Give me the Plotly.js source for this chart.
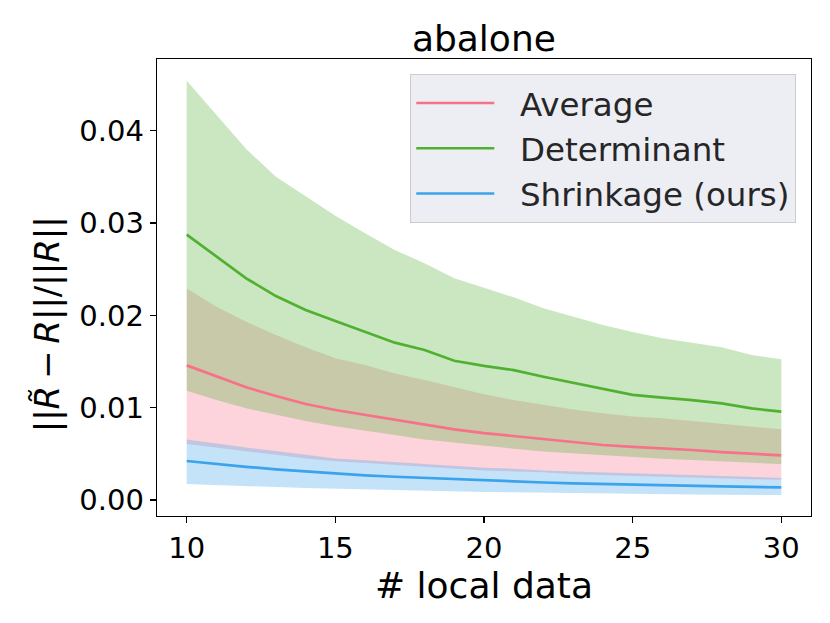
<!DOCTYPE html>
<html>
<head>
<meta charset="utf-8">
<script src="https://cdn.plot.ly/plotly-3.0.1.min.js"></script>
<style>html,body{margin:0;padding:0;background:#fff;}#chart{width:830px;height:623px;}</style>
</head>
<body>
<div id="chart"></div>
<script>
// ---- data ----
const localData = [10,11,12,13,14,15,16,17,18,19,20,21,22,23,24,25,26,27,28,29,30];

const avgMean  = [0.01459,0.01336,0.01221,0.01127,0.01040,0.00975,0.00921,0.00867,0.00813,0.00766,0.00725,0.00693,0.00657,0.00625,0.00596,0.00575,0.00560,0.00542,0.00520,0.00502,0.00484];
const avgUpper = [0.02293,0.02095,0.01932,0.01788,0.01654,0.01535,0.01463,0.01372,0.01300,0.01221,0.01145,0.01083,0.01029,0.00982,0.00939,0.00906,0.00885,0.00856,0.00831,0.00794,0.00766];
const avgLower = [0.00607,0.00570,0.00530,0.00490,0.00450,0.00420,0.00400,0.00380,0.00360,0.00340,0.00320,0.00310,0.00300,0.00280,0.00270,0.00260,0.00250,0.00240,0.00230,0.00225,0.00220];

const detMean  = [0.02875,0.02636,0.02402,0.02210,0.02058,0.01940,0.01824,0.01705,0.01625,0.01509,0.01454,0.01408,0.01336,0.01271,0.01199,0.01140,0.01109,0.01083,0.01047,0.00993,0.00957];
const detUpper = [0.04543,0.04170,0.03803,0.03503,0.03287,0.03080,0.02889,0.02709,0.02564,0.02402,0.02300,0.02196,0.02077,0.01986,0.01896,0.01820,0.01752,0.01705,0.01654,0.01571,0.01524];
const detLower = [0.01185,0.01083,0.00993,0.00921,0.00856,0.00800,0.00748,0.00704,0.00657,0.00621,0.00585,0.00556,0.00527,0.00506,0.00484,0.00462,0.00448,0.00433,0.00419,0.00404,0.00390];

const shrMean  = [0.00423,0.00390,0.00360,0.00333,0.00310,0.00285,0.00268,0.00252,0.00238,0.00224,0.00210,0.00200,0.00190,0.00180,0.00172,0.00165,0.00158,0.00153,0.00147,0.00142,0.00137];
const shrUpper = [0.00657,0.00610,0.00570,0.00530,0.00490,0.00450,0.00430,0.00410,0.00390,0.00370,0.00350,0.00340,0.00320,0.00310,0.00300,0.00290,0.00280,0.00270,0.00260,0.00250,0.00240];
const shrLower = [0.00173,0.00160,0.00150,0.00140,0.00130,0.00122,0.00115,0.00108,0.00101,0.00094,0.00088,0.00083,0.00078,0.00073,0.00069,0.00065,0.00062,0.00060,0.00058,0.00056,0.00054];

const seriesNames = ["Average","Determinant","Shrinkage (ours)"];
const xTicks = [10,15,20,25,30];
const yTicks = [0.00,0.01,0.02,0.03,0.04];
const yTickText = ["0.00","0.01","0.02","0.03","0.04"];
const chartTitle = "abalone";
const xTitle = "# local data";
const yTitle = "||<i>R̃</i>\u2009−\u2009<i>R</i>||/||<i>R</i>||";

// ---- styles ----
const lineColors = ["#f77189","#50b131","#3ba3ec"];
const fillColors = ["rgba(247,113,137,0.3)","rgba(80,177,49,0.3)","rgba(59,163,236,0.3)"];
const means  = [avgMean, detMean, shrMean];
const uppers = [avgUpper, detUpper, shrUpper];
const lowers = [avgLower, detLower, shrLower];

const traces = [];
for (let i = 0; i < 3; i++) {
  traces.push({x: localData, y: lowers[i], type: "scatter", mode: "lines",
    line: {width: 0, color: fillColors[i]}, showlegend: false, hoverinfo: "skip"});
  traces.push({x: localData, y: uppers[i], type: "scatter", mode: "lines",
    line: {width: 0, color: fillColors[i]}, fill: "tonexty", fillcolor: fillColors[i],
    showlegend: false, hoverinfo: "skip"});
}
for (let i = 0; i < 3; i++) {
  traces.push({x: localData, y: means[i], type: "scatter", mode: "lines",
    name: "\u00a0\u00a0" + seriesNames[i], legendgroup: "g" + i,
    line: {width: 2.7, color: lineColors[i]}});
}

const font = "DejaVu Sans, sans-serif";
const layout = {
  width: 830, height: 623,
  margin: {l: 157, r: 19, t: 59, b: 107},
  paper_bgcolor: "#fff", plot_bgcolor: "#fff",
  font: {family: font, color: "#000", size: 29},
  showlegend: true,
  title: {text: chartTitle, font: {family: font, size: 36, color: "#000"},
          x: 0.583, xanchor: "center", yref: "container", y: 0.938, yanchor: "middle"},
  xaxis: {
    range: [9, 31], tickvals: xTicks, ticktext: xTicks.map(String),
    ticks: "outside", ticklen: 6, tickwidth: 1.3, tickcolor: "#000",
    showline: true, linecolor: "#000", linewidth: 1.3, mirror: true,
    showgrid: false, zeroline: false,
    tickfont: {family: font, size: 29, color: "#000"},
    title: {text: xTitle, font: {family: font, size: 36, color: "#000"}, standoff: 0}
  },
  yaxis: {
    range: [-0.00173, 0.04778], tickvals: yTicks, ticktext: yTickText,
    ticks: "outside", ticklen: 6, tickwidth: 1.3, tickcolor: "#000",
    showline: true, linecolor: "#000", linewidth: 1.3, mirror: true,
    showgrid: false, zeroline: false,
    tickfont: {family: font, size: 29, color: "#000"}
  },
  annotations: [{
    text: yTitle, textangle: -90, showarrow: false,
    xref: "paper", yref: "paper", x: -0.168, y: 0.179, xanchor: "center", yanchor: "bottom",
    font: {family: font, size: 34, color: "#000"}
  }],
  legend: {
    x: 0.977, xanchor: "right", y: 0.967, yanchor: "top",
    traceorder: "normal", tracegroupgap: 8,
    bgcolor: "rgba(234,234,242,0.85)", bordercolor: "#cccccc", borderwidth: 1.3,
    font: {family: font, size: 32.5, color: "#262626"},
    itemwidth: 78
  }
};

Plotly.newPlot("chart", traces, layout, {displayModeBar: false, staticPlot: true});
</script>
</body>
</html>
